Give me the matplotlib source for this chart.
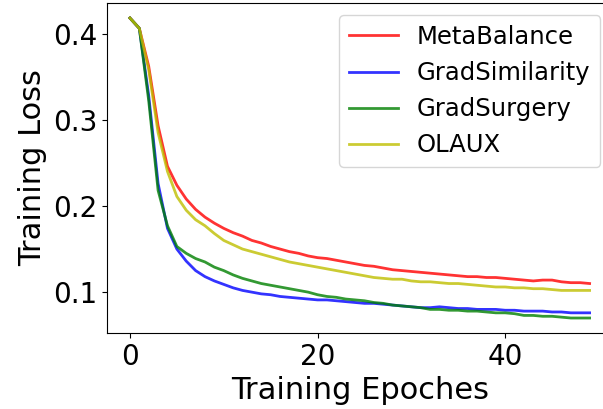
import matplotlib
matplotlib.use("Agg")
import matplotlib.pyplot as plt

# Training loss per epoch
epochs = list(range(50))

meta_balance = [0.418, 0.406, 0.362, 0.293, 0.246, 0.224, 0.208, 0.196, 0.187, 0.180,
                0.174, 0.169, 0.165, 0.160, 0.157, 0.153, 0.150, 0.147, 0.145, 0.142,
                0.140, 0.139, 0.137, 0.135, 0.133, 0.131, 0.130, 0.128, 0.126, 0.125,
                0.124, 0.123, 0.122, 0.121, 0.120, 0.119, 0.118, 0.118, 0.117, 0.117,
                0.116, 0.115, 0.114, 0.113, 0.114, 0.114, 0.112, 0.111, 0.111, 0.110]

grad_similarity = [0.418, 0.406, 0.328, 0.226, 0.174, 0.150, 0.136, 0.125, 0.118, 0.113,
                   0.109, 0.105, 0.102, 0.100, 0.098, 0.097, 0.095, 0.094, 0.093, 0.092,
                   0.091, 0.091, 0.090, 0.089, 0.088, 0.087, 0.087, 0.086, 0.085, 0.084,
                   0.083, 0.082, 0.082, 0.083, 0.082, 0.081, 0.081, 0.080, 0.080, 0.080,
                   0.079, 0.079, 0.078, 0.078, 0.078, 0.077, 0.077, 0.076, 0.076, 0.076]

grad_surgery = [0.418, 0.406, 0.322, 0.218, 0.177, 0.153, 0.145, 0.139, 0.135, 0.129,
                0.125, 0.120, 0.116, 0.113, 0.110, 0.108, 0.106, 0.104, 0.102, 0.100,
                0.097, 0.095, 0.094, 0.092, 0.091, 0.090, 0.088, 0.087, 0.085, 0.084,
                0.083, 0.082, 0.080, 0.080, 0.079, 0.079, 0.078, 0.078, 0.077, 0.076,
                0.076, 0.075, 0.073, 0.073, 0.072, 0.072, 0.071, 0.070, 0.070, 0.070]

olaux = [0.418, 0.406, 0.358, 0.285, 0.240, 0.211, 0.195, 0.184, 0.177, 0.168,
         0.160, 0.155, 0.150, 0.147, 0.144, 0.141, 0.138, 0.135, 0.133, 0.131,
         0.129, 0.127, 0.125, 0.123, 0.121, 0.119, 0.117, 0.116, 0.115, 0.115,
         0.113, 0.112, 0.112, 0.111, 0.110, 0.110, 0.109, 0.108, 0.107, 0.106,
         0.106, 0.105, 0.105, 0.104, 0.104, 0.103, 0.102, 0.102, 0.102, 0.102]

fig = plt.figure(figsize=(6.03, 4.09), dpi=100)
# axes run a little past the right edge, as in the cropped original
ax = fig.add_axes([0.1774, 0.1858, 0.8385, 0.8068])

ax.plot(epochs, meta_balance, color="r", alpha=0.8, linewidth=2, label="MetaBalance")
ax.plot(epochs, grad_similarity, color="b", alpha=0.8, linewidth=2, label="GradSimilarity")
ax.plot(epochs, grad_surgery, color="g", alpha=0.8, linewidth=2, label="GradSurgery")
ax.plot(epochs, olaux, color="y", alpha=0.8, linewidth=2, label="OLAUX")

ax.set_xticks([0, 20, 40])
ax.set_yticks([0.1, 0.2, 0.3, 0.4])
ax.tick_params(labelsize=20)
ax.set_xlabel("Training Epoches", fontsize=22)
ax.set_ylabel("Training Loss", fontsize=22)
ax.legend(loc="upper right", fontsize=17.5)

fig.savefig("out.png", dpi=100)
